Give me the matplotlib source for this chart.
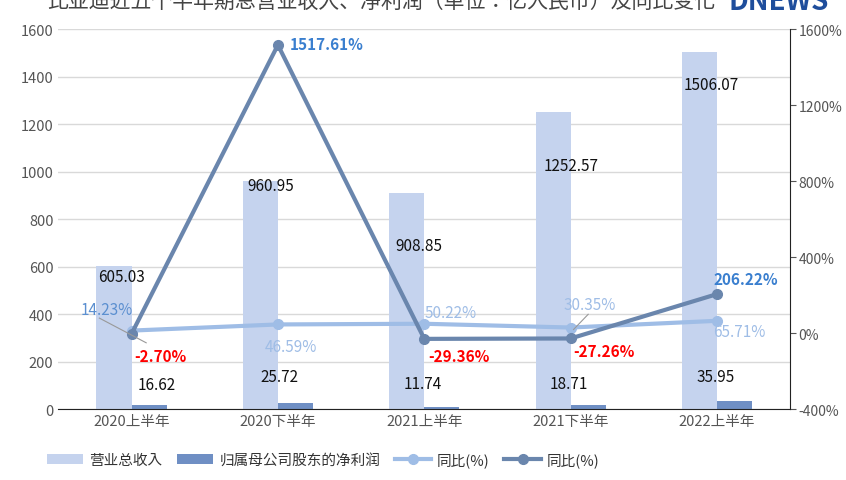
import matplotlib
matplotlib.use("Agg")
import matplotlib.pyplot as plt
from matplotlib import font_manager as fm
import numpy as np

for f in fm.findSystemFonts():
    if "NotoSansCJK" in f.replace(" ", "") or "Noto Sans CJK" in f:
        try:
            fm.fontManager.addfont(f)
        except Exception:
            pass
plt.rcParams["font.family"] = "sans-serif"
plt.rcParams["font.sans-serif"] = ["Noto Sans CJK SC", "Noto Sans CJK JP", "DejaVu Sans"]

categories = ["2020上半年", "2020下半年", "2021上半年", "2021下半年", "2022上半年"]
revenue = [605.03, 960.95, 908.85, 1252.57, 1506.07]
net_profit = [16.62, 25.72, 11.74, 18.71, 35.95]
rev_yoy = [14.23, 46.59, 50.22, 30.35, 65.71]
np_yoy = [-2.70, 1517.61, -29.36, -27.26, 206.22]
rev_yoy_labels = ["14.23%", "46.59%", "50.22%", "30.35%", "65.71%"]
np_yoy_labels = ["-2.70%", "1517.61%", "-29.36%", "-27.26%", "206.22%"]

c_rev = "#c5d3ee"
c_np = "#6f8fc4"
c_l1 = "#9fbde6"
c_l2 = "#6a86ad"

fig = plt.figure(figsize=(8.46, 4.81), dpi=100)
ax = fig.add_axes([0.069, 0.147, 0.865, 0.79])
x = np.arange(len(categories))
w = 0.24
ax.bar(x - w/2, revenue, w, color=c_rev, label="营业总收入")
ax.bar(x + w/2, net_profit, w, color=c_np, label="归属母公司股东的净利润")
ax.set_ylim(0, 1600)
ax.set_xlim(-0.5, 4.5)
ax.set_yticks(range(0, 1601, 200))
ax.grid(axis="y", color="#d9d9d9", lw=1)
ax.set_axisbelow(True)
for s in ["top", "right", "left"]:
    ax.spines[s].set_visible(False)
ax.spines["bottom"].set_color("#222222")
ax.tick_params(length=0, labelsize=10.5, colors="#555555")
ax.set_xticks(x)
ax.set_xticklabels(categories, fontsize=10.5, color="#555555")

rev_off = [(-0.07, -45), (-0.05, -20), (-0.04, -220), (0.0, -225), (-0.04, -140)]
for i, v in enumerate(revenue):
    dx, dy = rev_off[i]
    ax.text(x[i] + dx, v + dy, f"{v:.2f}", ha="center", va="center", fontsize=11, color="#111111")
np_off = [(0.17, 88), (0.01, 113), (-0.01, 97), (-0.01, 90), (-0.01, 102)]
for i, v in enumerate(net_profit):
    dx, dy = np_off[i]
    ax.text(x[i] + dx, v + dy, f"{v:.2f}", ha="center", va="center", fontsize=11, color="#111111")

ax2 = ax.twinx()
ax2.set_ylim(-400, 1600)
ax2.set_yticks(range(-400, 1601, 400))
ax2.set_yticklabels([f"{t}%" for t in range(-400, 1601, 400)])
for s in ["top", "left", "bottom"]:
    ax2.spines[s].set_visible(False)
ax2.spines["right"].set_color("#222222")
ax2.tick_params(labelsize=10, colors="#555555", direction="out", length=4, pad=2)
ax2.plot(x, rev_yoy, color=c_l1, lw=3, marker="o", ms=7, label="同比(%)")
ax2.plot(x, np_yoy, color=c_l2, lw=3, marker="o", ms=7, label="同比(%)")

l1_off = [(-0.17, 112), (0.09, -115), (0.18, 60), (0.13, 123), (0.15, -56)]
for i, v in enumerate(rev_yoy):
    dx, dy = l1_off[i]
    ax2.text(x[i] + dx, v + dy, rev_yoy_labels[i], ha="center", va="center", fontsize=11,
             color="#5b8fd0" if i == 0 else c_l1)
l2_off = [(0.2, -118), (0.33, 3), (0.24, -92), (0.23, -68), (0.2, 78)]
for i, v in enumerate(np_yoy):
    dx, dy = l2_off[i]
    col = "#ff0000" if v < 0 else "#3a7fcf"
    ax2.text(x[i] + dx, v + dy, np_yoy_labels[i], ha="center", va="center", fontsize=11,
             color=col, fontweight="bold")
ax2.plot([x[0] - 0.22, x[0] + 0.1], [80, -50], color="#999999", lw=0.8)
ax2.plot([x[3] + 0.02, x[3] + 0.12], [20, 100], color="#999999", lw=0.8)

h1, lb1 = ax.get_legend_handles_labels()
h2, lb2 = ax2.get_legend_handles_labels()
fig.legend(h1 + h2, lb1 + lb2, loc="lower left", bbox_to_anchor=(0.04, 0.0), ncol=4,
           frameon=False, fontsize=10.5, labelcolor="#333333", handlelength=2.5,
           columnspacing=1.0, handletextpad=0.4)

fig.text(0.45, 0.995, "比亚迪近五个半年期总营业收入、净利润（单位：亿人民币）及同比变化",
         ha="center", va="center", fontsize=15, color="#444444")
fig.text(0.98, 0.995, "DNEWS", ha="right", va="center", fontsize=20, color="#1f4e9c", fontweight="bold")
fig.savefig("out.png", dpi=100)
